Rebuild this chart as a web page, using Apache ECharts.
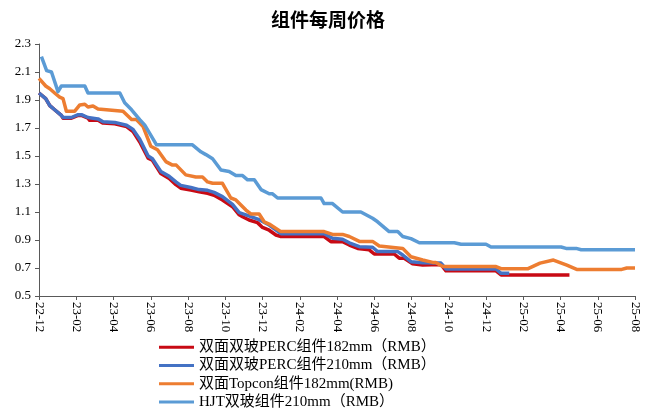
<!DOCTYPE html>
<html>
<head>
<meta charset="utf-8">
<script src="https://cdn.jsdelivr.net/npm/echarts@6/dist/echarts.min.js"></script>
<style>html,body{margin:0;padding:0;background:#fff;}#c{width:656px;height:412px;}</style>
</head>
<body>
<div id="c"></div>
<script>
// x positions are months since 2022-12 (tick every 2 months)
const tickLabels = ['22-12','23-02','23-04','23-06','23-08','23-10','23-12','24-02','24-04','24-06','24-08','24-10','24-12','25-02','25-04','25-06','25-08'];
const seriesNames = ['双面双玻PERC组件182mm（RMB）','双面双玻PERC组件210mm（RMB）','双面Topcon组件182mm(RMB)','HJT双玻组件210mm（RMB）'];

const perc182Months = [0,0.36,0.58,0.84,1.2,1.29,1.74,2.1,2.28,2.63,2.72,3.17,3.44,4.07,4.7,5.05,5.41,5.86,6.09,6.54,6.99,7.35,7.61,8.15,8.6,9.05,9.4,9.85,10.39,10.75,10.93,11.28,11.73,12.0,12.36,12.72,12.99,15.31,15.67,16.3,16.66,17.11,17.73,18.0,19.07,19.34,19.61,20.06,20.6,21.58,21.85,24.54,24.81,28.48];
const perc182Price  = [1.95,1.91,1.86,1.83,1.79,1.77,1.77,1.79,1.79,1.77,1.755,1.755,1.735,1.73,1.71,1.675,1.60,1.485,1.47,1.375,1.34,1.295,1.27,1.257,1.245,1.233,1.22,1.186,1.138,1.08,1.066,1.043,1.024,0.99,0.97,0.936,0.925,0.925,0.888,0.888,0.864,0.84,0.83,0.80,0.80,0.77,0.77,0.73,0.722,0.725,0.68,0.68,0.65,0.65];

const perc210Months = [0,0.36,0.58,0.84,1.2,1.29,1.74,2.1,2.28,2.63,3.17,3.44,4.07,4.7,5.05,5.41,5.86,6.09,6.54,6.99,7.35,7.61,8.15,8.6,9.05,9.4,9.85,10.39,10.75,11.11,11.82,12.36,12.99,15.31,15.76,16.3,16.66,17.2,17.91,18.18,19.26,19.53,19.97,20.6,21.58,21.85,24.54,24.81,25.25];
const perc210Price  = [1.95,1.91,1.86,1.83,1.79,1.775,1.775,1.795,1.795,1.775,1.765,1.745,1.74,1.72,1.69,1.62,1.50,1.48,1.39,1.355,1.315,1.29,1.275,1.26,1.255,1.24,1.21,1.155,1.095,1.08,1.045,1.007,0.945,0.945,0.912,0.905,0.88,0.852,0.848,0.817,0.817,0.793,0.745,0.738,0.735,0.693,0.693,0.662,0.662];

const topconMonths = [0,0.36,0.58,0.84,1.11,1.29,1.47,1.92,2.19,2.46,2.63,2.9,3.17,4.51,4.97,5.23,5.59,6.0,6.36,6.81,7.17,7.37,7.88,8.42,8.78,9.05,9.32,9.85,10.3,10.57,11.11,11.37,11.82,12.09,12.36,12.99,15.31,15.76,16.3,16.66,17.2,17.91,18.27,19.53,19.97,20.6,21.14,21.3,21.68,24.54,24.81,26.26,26.9,27.62,28.34,28.87,31.29,31.56,32];
const topconPrice  = [2.055,2.0,1.98,1.95,1.92,1.91,1.82,1.82,1.865,1.87,1.85,1.857,1.835,1.82,1.76,1.76,1.71,1.57,1.545,1.46,1.435,1.435,1.365,1.35,1.35,1.315,1.305,1.305,1.20,1.186,1.114,1.086,1.086,1.03,1.014,0.96,0.96,0.94,0.94,0.925,0.89,0.89,0.857,0.84,0.78,0.757,0.74,0.74,0.71,0.71,0.695,0.695,0.735,0.757,0.72,0.69,0.69,0.70,0.70];

const hjtMonths = [0.13,0.41,0.67,1.02,1.2,2.46,2.63,4.34,4.6,4.97,5.41,5.68,6.31,8.24,8.69,8.96,9.32,9.77,10.21,10.57,10.93,11.2,11.56,11.92,12.36,12.54,12.81,15.14,15.31,15.76,16.3,17.28,17.91,18.18,18.8,19.26,19.53,19.97,20.42,22.3,22.66,24.0,24.27,28.03,28.3,28.84,29.11,32];
const hjtPrice  = [2.21,2.11,2.10,1.96,2.0,2.0,1.95,1.95,1.88,1.83,1.76,1.72,1.58,1.58,1.53,1.51,1.48,1.40,1.39,1.36,1.36,1.33,1.33,1.26,1.23,1.23,1.20,1.20,1.16,1.16,1.10,1.10,1.055,1.03,0.96,0.96,0.925,0.91,0.88,0.88,0.87,0.87,0.85,0.85,0.84,0.84,0.83,0.83];

const colors = ['#C80A14','#4472C4','#ED7D31','#5B9BD5'];
const zip = (xs, ys) => xs.map((x, i) => [x, ys[i]]);
const allData = [
  zip(perc182Months, perc182Price),
  zip(perc210Months, perc210Price),
  zip(topconMonths, topconPrice),
  zip(hjtMonths, hjtPrice)
];

const serif = '"Liberation Serif","Times New Roman","Noto Sans CJK SC",serif';
const chart = echarts.init(document.getElementById('c'), null, {renderer: 'canvas'});
chart.setOption({
  animation: false,
  backgroundColor: '#fff',
  color: colors,
  title: {
    text: '组件每周价格',
    left: 'center',
    top: 5,
    textStyle: {fontFamily: '"Noto Sans CJK SC",sans-serif', fontWeight: 'bold', fontSize: 19, color: '#000'}
  },
  legend: {
    orient: 'vertical',
    left: 159,
    top: 338,
    height: 80,
    padding: 0,
    icon: 'rect',
    itemWidth: 35,
    itemHeight: 3,
    itemGap: 0,
    textStyle: {fontFamily: serif, fontSize: 15, color: '#000', lineHeight: 18.3},
    data: seriesNames
  },
  grid: {left: 39, right: 21, top: 44, bottom: 116, containLabel: false},
  xAxis: {
    type: 'value',
    min: 0, max: 32, interval: 2,
    splitLine: {show: false},
    axisLine: {lineStyle: {color: '#595959', width: 1}},
    axisTick: {show: true, length: 4, lineStyle: {color: '#595959'}},
    axisLabel: {
      rotate: -90, margin: 6, fontFamily: serif, fontSize: 13, color: '#000',
      formatter: v => tickLabels[Math.round(v / 2)] || ''
    }
  },
  yAxis: {
    type: 'value',
    min: 0.5, max: 2.3, interval: 0.2,
    splitLine: {show: false},
    axisLine: {show: true, lineStyle: {color: '#595959', width: 1}},
    axisTick: {show: true, length: 4, lineStyle: {color: '#595959'}},
    axisLabel: {margin: 8, fontFamily: serif, fontSize: 13, color: '#000', formatter: v => v.toFixed(1)}
  },
  series: seriesNames.map((n, i) => ({
    name: n,
    type: 'line',
    data: allData[i],
    symbol: 'none',
    lineStyle: {width: 3.5, color: colors[i], join: 'round'},
    itemStyle: {color: colors[i]}
  }))
});
</script>
</body>
</html>
